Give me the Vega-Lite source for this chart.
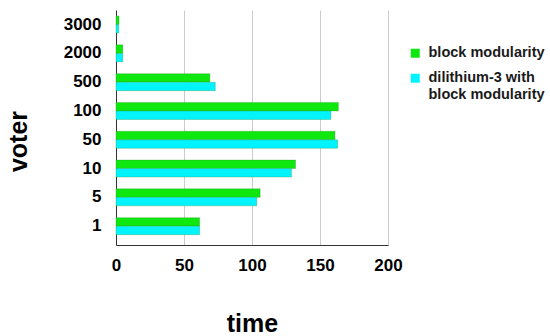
{
  "$schema": "https://vega.github.io/schema/vega-lite/v6.json",
  "autosize": "none",
  "width": 272,
  "height": 235,
  "padding": {"left": 116, "top": 10, "right": 162, "bottom": 91},
  "background": "white",
  "data": {
    "values": [
      {"voter": "3000", "series": "block modularity", "time": 2.2},
      {"voter": "3000", "series": "dilithium-3 with block modularity", "time": 2.0},
      {"voter": "2000", "series": "block modularity", "time": 5},
      {"voter": "2000", "series": "dilithium-3 with block modularity", "time": 5},
      {"voter": "500", "series": "block modularity", "time": 69},
      {"voter": "500", "series": "dilithium-3 with block modularity", "time": 73},
      {"voter": "100", "series": "block modularity", "time": 163.5},
      {"voter": "100", "series": "dilithium-3 with block modularity", "time": 158},
      {"voter": "50", "series": "block modularity", "time": 161},
      {"voter": "50", "series": "dilithium-3 with block modularity", "time": 163},
      {"voter": "10", "series": "block modularity", "time": 132},
      {"voter": "10", "series": "dilithium-3 with block modularity", "time": 129},
      {"voter": "5", "series": "block modularity", "time": 106},
      {"voter": "5", "series": "dilithium-3 with block modularity", "time": 103.5},
      {"voter": "1", "series": "block modularity", "time": 61.5},
      {"voter": "1", "series": "dilithium-3 with block modularity", "time": 61.5}
    ]
  },
  "mark": {"type": "bar", "stroke": "#2a8a2a", "strokeWidth": 0.6, "strokeOpacity": 0.5},
  "encoding": {
    "y": {
      "field": "voter",
      "type": "nominal",
      "sort": ["3000", "2000", "500", "100", "50", "10", "5", "1"],
      "scale": {"paddingInner": 0.41, "paddingOuter": 0.285, "align": 0.37},
      "axis": {
        "title": "voter",
        "titleFont": "Liberation Sans",
        "titleFontSize": 25,
        "titleFontWeight": "bold",
        "titleColor": "#000",
        "titleAngle": 270,
        "titleAlign": "center",
        "titleBaseline": "middle",
        "titleX": -98,
        "titleY": 131,
        "labelFont": "Liberation Sans",
        "labelFontSize": 17,
        "labelFontWeight": "bold",
        "labelColor": "#000",
        "labelPadding": 15,
        "ticks": false,
        "domainColor": "#333",
        "domainWidth": 1
      }
    },
    "yOffset": {
      "field": "series",
      "type": "nominal",
      "sort": ["block modularity", "dilithium-3 with block modularity"],
      "scale": {"paddingInner": 0, "paddingOuter": 0}
    },
    "x": {
      "field": "time",
      "type": "quantitative",
      "scale": {"domain": [0, 200], "nice": false},
      "axis": {
        "title": "time",
        "titleFont": "Liberation Sans",
        "titleFontSize": 25,
        "titleFontWeight": "bold",
        "titleColor": "#000",
        "titleBaseline": "middle",
        "titleY": 78,
        "values": [0, 50, 100, 150, 200],
        "labelFont": "Liberation Sans",
        "labelFontSize": 17,
        "labelFontWeight": "bold",
        "labelColor": "#000",
        "labelPadding": 12,
        "labelFlush": false,
        "ticks": false,
        "grid": true,
        "gridColor": "#cccccc",
        "domainColor": "#333",
        "domainWidth": 1
      }
    },
    "color": {
      "field": "series",
      "type": "nominal",
      "sort": ["block modularity", "dilithium-3 with block modularity"],
      "scale": {"range": ["#0ee80e", "#00f4ff"]},
      "legend": {
        "title": null,
        "orient": "none",
        "legendX": 292,
        "legendY": 36,
        "padding": 0,
        "symbolType": "square",
        "symbolSize": 81,
        "symbolStrokeWidth": 0,
        "rowPadding": 10,
        "labelOffset": 6,
        "labelFont": "Liberation Sans",
        "labelFontSize": 14.5,
        "labelFontWeight": "bold",
        "labelColor": "#1a1a1a",
        "labelLimit": 200,
        "labelExpr": "datum.label == 'dilithium-3 with block modularity' ? ['dilithium-3 with', 'block modularity'] : datum.label"
      }
    }
  },
  "config": {"view": {"stroke": null}}
}
